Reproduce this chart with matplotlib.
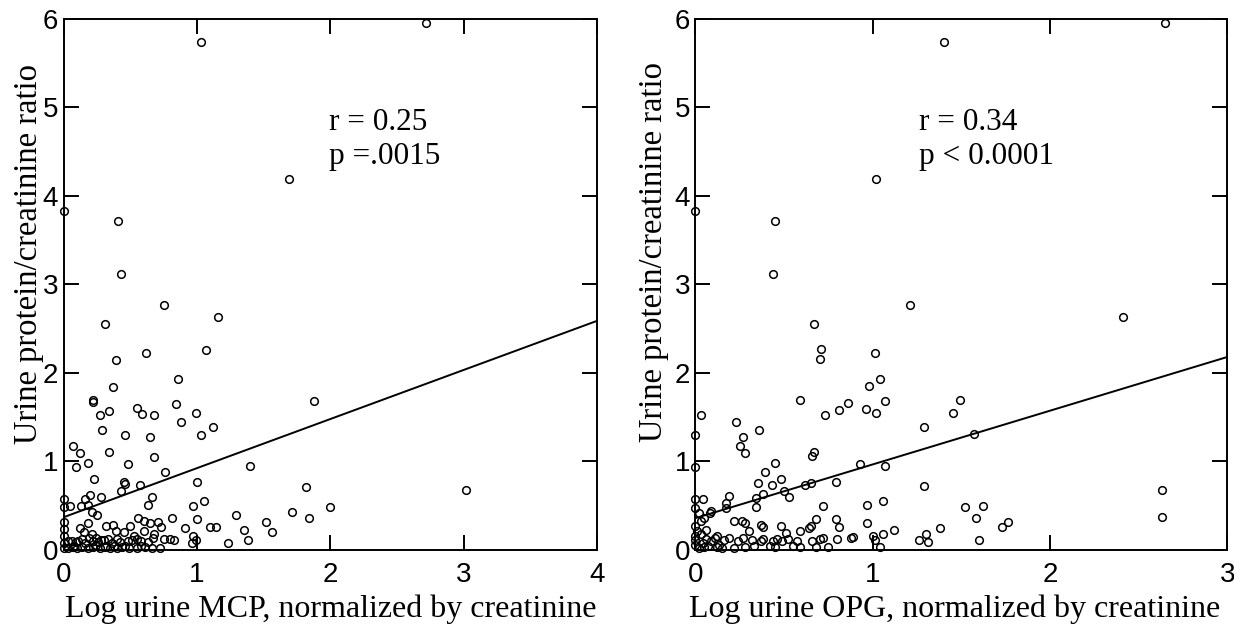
import numpy as np
import matplotlib.pyplot as plt

# Left panel: log urine MCP vs protein/creatinine ratio
mcp_x = [2.72, 1.03, 1.69, 0.0, 0.41, 0.43, 0.75, 1.16, 0.31, 1.07, 0.62, 0.39, 0.86, 0.37,
         0.22, 0.22, 1.88, 0.84, 0.55, 0.34, 0.59, 0.27, 0.68, 0.99, 0.88, 1.12, 0.29, 0.46,
         1.03, 0.65, 0.07, 0.12, 0.34, 0.68, 0.18, 0.09, 0.48, 1.40, 0.76, 0.23, 0.45, 0.46,
         0.57, 0.43, 1.00, 1.82, 3.02,
         0.0, 0.20, 0.28, 0.66, 0.16, 0.0, 0.05, 0.13, 0.18, 0.63, 0.97, 1.05, 1.71, 2.00,
         0.21, 0.25, 0.81, 1.29, 1.84, 0.0, 0.56, 0.60, 0.65, 0.71, 1.00, 1.52, 0.50, 0.91,
         1.10, 1.14, 1.35, 1.56, 0.37, 0.32, 0.39, 0.0, 0.12, 0.21, 0.24, 0.28, 0.73, 0.75,
         0.80, 0.83, 0.97, 0.96, 0.99, 1.23, 1.38, 0.60, 0.45, 0.53, 0.68,
         0.0, 0.0, 0.0, 0.03, 0.06, 0.09, 0.11, 0.14, 0.16, 0.19, 0.22, 0.26, 0.30, 0.33,
         0.36, 0.40, 0.42, 0.48, 0.51, 0.55, 0.58, 0.63, 0.67, 0.03, 0.07, 0.10, 0.14, 0.18,
         0.22, 0.27, 0.31, 0.35, 0.40, 0.44, 0.49, 0.55, 0.61, 0.66, 0.72, 0.15, 0.18, 0.08,
         0.46, 0.38, 0.24, 0.58]
mcp_y = [5.95, 5.74, 4.19, 3.83, 3.72, 3.12, 2.77, 2.63, 2.55, 2.26, 2.23, 2.15, 1.93, 1.84,
         1.69, 1.67, 1.68, 1.65, 1.60, 1.57, 1.54, 1.52, 1.52, 1.55, 1.45, 1.39, 1.36, 1.30,
         1.30, 1.28, 1.17, 1.10, 1.11, 1.05, 0.98, 0.94, 0.97, 0.95, 0.88, 0.80, 0.77, 0.75,
         0.74, 0.67, 0.77, 0.71, 0.68,
         0.58, 0.62, 0.60, 0.60, 0.58, 0.49, 0.50, 0.50, 0.51, 0.51, 0.50, 0.55, 0.43, 0.49,
         0.43, 0.39, 0.36, 0.40, 0.36, 0.32, 0.36, 0.33, 0.31, 0.32, 0.35, 0.32, 0.27, 0.25,
         0.26, 0.26, 0.23, 0.20, 0.28, 0.27, 0.22, 0.24, 0.25, 0.18, 0.14, 0.11, 0.26, 0.12,
         0.12, 0.11, 0.16, 0.08, 0.11, 0.08, 0.11, 0.22, 0.20, 0.16, 0.18,
         0.16, 0.08, 0.02, 0.10, 0.10, 0.09, 0.10, 0.12, 0.08, 0.13, 0.10, 0.09, 0.11, 0.12,
         0.08, 0.12, 0.09, 0.10, 0.11, 0.12, 0.10, 0.09, 0.13, 0.02, 0.03, 0.02, 0.03, 0.02,
         0.03, 0.02, 0.03, 0.02, 0.02, 0.03, 0.02, 0.02, 0.03, 0.02, 0.02, 0.20, 0.30, 0.05,
         0.05, 0.05, 0.06, 0.05]

# Right panel: log urine OPG vs protein/creatinine ratio
opg_x = [2.65, 1.40, 1.02, 0.0, 0.45, 0.44, 1.21, 2.41, 0.67, 0.71, 0.70, 1.01, 1.04, 0.98,
         0.59, 0.86, 0.81, 0.73, 0.96, 1.02, 1.07, 1.49, 1.45, 0.03, 0.23, 0.36, 1.29, 0.27,
         0.25, 0.28, 0.0, 1.57, 0.67, 0.66, 0.0, 0.45, 0.93, 1.07, 0.39, 0.48, 0.35, 0.43,
         0.50, 0.38, 0.53, 0.34, 0.62, 0.65, 0.79, 1.29, 2.63, 0.19, 0.0, 0.04, 0.17, 0.17,
         0.0, 0.34, 0.72, 0.97, 1.06, 1.52, 1.62, 2.63, 1.58, 1.76, 1.73, 1.38, 1.30, 1.26,
         1.31, 1.60, 1.12, 1.06, 0.97, 0.79, 0.81, 0.89, 0.88, 1.00, 1.01, 1.04, 0.68, 0.65,
         0.64, 0.59, 0.48, 0.51, 0.37, 0.38, 0.30, 0.28, 0.22, 0.26, 0.08, 0.09, 0.05, 0.03,
         0.02, 0.0, 0.01, 0.0, 0.0, 0.0, 0.02, 0.04, 0.06, 0.07, 0.09, 0.11, 0.13, 0.16,
         0.19, 0.22, 0.24, 0.27, 0.28, 0.32, 0.37, 0.38, 0.45, 0.44, 0.46, 0.49, 0.52, 0.57,
         0.59, 0.66, 0.68, 0.70, 0.72, 0.75, 0.80, 0.12, 0.15, 0.05, 0.33, 0.42, 0.55, 0.03,
         0.06, 0.12]
opg_y = [5.95, 5.74, 4.19, 3.83, 3.72, 3.12, 2.77, 2.63, 2.55, 2.27, 2.16, 2.23, 1.93, 1.85,
         1.69, 1.66, 1.58, 1.53, 1.59, 1.55, 1.68, 1.69, 1.55, 1.53, 1.45, 1.36, 1.39, 1.28,
         1.18, 1.10, 1.30, 1.31, 1.11, 1.06, 0.94, 0.98, 0.97, 0.95, 0.88, 0.80, 0.76, 0.73,
         0.67, 0.63, 0.60, 0.59, 0.74, 0.76, 0.77, 0.72, 0.68, 0.61, 0.58, 0.58, 0.53, 0.48,
         0.48, 0.49, 0.50, 0.51, 0.55, 0.49, 0.50, 0.37, 0.36, 0.32, 0.26, 0.25, 0.18, 0.11,
         0.09, 0.11, 0.23, 0.18, 0.31, 0.35, 0.26, 0.15, 0.13, 0.16, 0.11, 0.03, 0.35, 0.27,
         0.25, 0.22, 0.27, 0.19, 0.28, 0.26, 0.22, 0.30, 0.33, 0.33, 0.42, 0.44, 0.36, 0.33,
         0.42, 0.27, 0.22, 0.16, 0.11, 0.06, 0.02, 0.08, 0.12, 0.04, 0.10, 0.14, 0.06, 0.11,
         0.14, 0.02, 0.10, 0.13, 0.03, 0.11, 0.10, 0.12, 0.03, 0.10, 0.12, 0.10, 0.12, 0.10,
         0.03, 0.10, 0.03, 0.12, 0.14, 0.03, 0.12, 0.03, 0.02, 0.03, 0.04, 0.05, 0.04, 0.18,
         0.23, 0.16]

# regression lines (intercept, slope) as printed in the figure
mcp_fit = [0.37, 0.555]
opg_fit = [0.36, 0.607]

serif = ["Liberation Serif", "DejaVu Serif"]
sans = ["Liberation Sans", "DejaVu Sans"]

fig = plt.figure(figsize=(12.34, 6.24), dpi=100)
ax1 = fig.add_axes([0.0515, 0.1186, 0.4325, 0.851])
ax2 = fig.add_axes([0.5636, 0.1186, 0.4310, 0.851])

panels = [
    (ax1, mcp_x, mcp_y, mcp_fit, 4, "Log urine MCP, normalized by creatinine",
     ["r = 0.25", "p =.0015"], 1.99, (-0.037, 0.558), (0.501, -0.084)),
    (ax2, opg_x, opg_y, opg_fit, 3, "Log urine OPG, normalized by creatinine",
     ["r = 0.34", "p < 0.0001"], 1.26, (-0.050, 0.562), (0.487, -0.084)),
]

for ax, xs, ys, fit, xmax, xlab, stats, tx, ylpos, xlpos in panels:
    ax.plot(xs, ys, "o", mfc="none", mec="black", ms=5.5, mew=1.1, clip_on=False, zorder=3)
    xx = np.array([0, xmax])
    ax.plot(xx, fit[0] + fit[1] * xx, color="black", lw=1.4)
    ax.set_xlim(0, xmax)
    ax.set_ylim(0, 6)
    ax.set_xticks(range(0, xmax + 1))
    ax.set_yticks(range(0, 7))
    ax.tick_params(direction="in", length=11, width=1.4, top=True, right=True,
                   labelsize=20)
    ax.tick_params(axis="y", pad=4)
    ax.tick_params(axis="x", pad=9)
    for lbl in ax.get_xticklabels() + ax.get_yticklabels():
        lbl.set_family(sans)
    for sp in ax.spines.values():
        sp.set_linewidth(1.4)
    ax.set_xlabel(xlab, family=serif, fontsize=23)
    ax.set_ylabel("Urine protein/creatinine ratio", family=serif, fontsize=23.5)
    ax.yaxis.set_label_coords(*ylpos)
    ax.xaxis.set_label_coords(*xlpos)
    ax.text(tx, 4.74, stats[0], family=serif, fontsize=22.5, ha="left", va="baseline")
    ax.text(tx, 4.36, stats[1], family=serif, fontsize=22.5, ha="left", va="baseline")

plt.savefig("out.png", dpi=100)
